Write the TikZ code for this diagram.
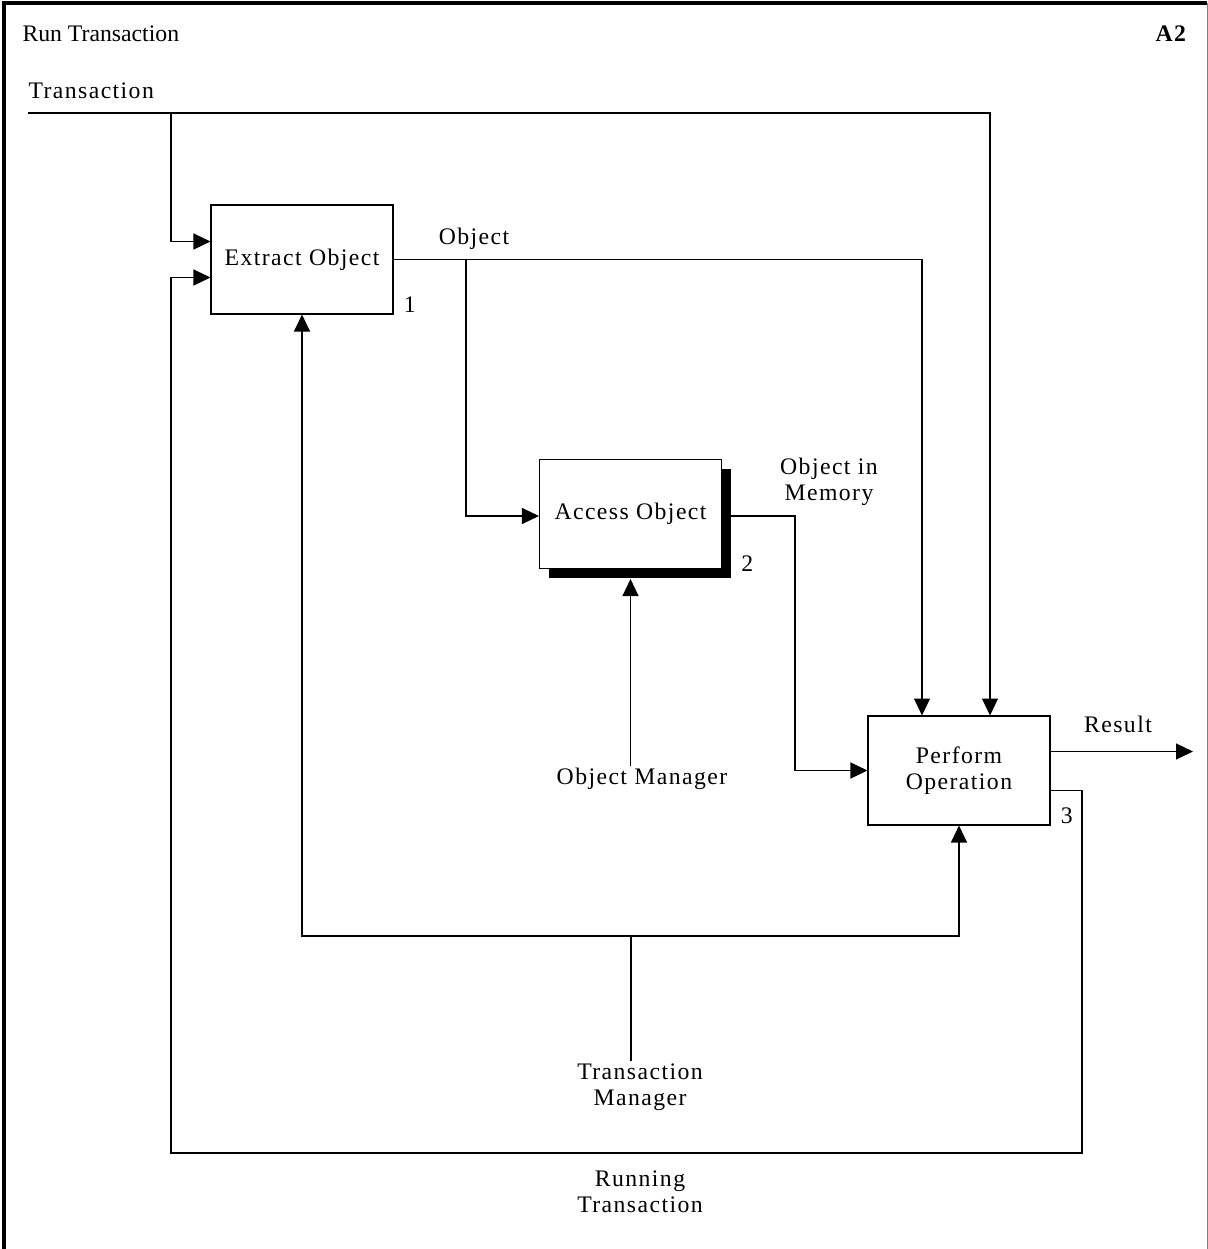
\documentclass[tikz,border=0pt]{standalone}
\usepackage{fontspec}
\setmainfont{Liberation Serif}
\usepackage{tikz}
\usetikzlibrary{arrows.meta,calc,positioning,shadows}

\begin{document}
\begin{tikzpicture}[x=0.02cm,y=-0.02cm,
  font=\fontsize{13.5}{15}\selectfont\addfontfeatures{LetterSpace=6},
  line width=0.6pt,
  arr/.style={-{Triangle[length=0.34cm,width=0.32cm]}},
  box/.style={draw,fill=white,minimum width=3.64cm,minimum height=2.18cm,inner sep=0pt,align=center},
  lbl/.style={align=center,inner sep=1pt}]
\useasboundingbox (0,0) rectangle (1208,1249);
% frame
\draw[line width=2pt] (4,1260) -- (4,3) -- (1207,3);
\draw[gray,line width=0.4pt] (1207,3) -- (1207,1260);
\node[anchor=west,inner sep=0pt,font=\fontsize{13.5}{15}\selectfont] (title) at (22,34) {Run Transaction};
\node[anchor=east,inner sep=0pt] (num) at (1188,34) {\textbf{A2}};
% boxes
\node[box] (ext) at (302,259.5) {Extract Object};
\node[box,drop shadow={shadow xshift=0.19cm,shadow yshift=-0.19cm,fill=black,opacity=1}] (acc) at (630.5,514) {Access Object};
\node[box] (perf) at (959,770.5) {Perform\\Operation};
\node[anchor=south west,inner sep=1pt] (n1) at ($(ext.south east)+(8,0)$) {1};
\node[anchor=south west,inner sep=1pt] (n2) at ($(acc.south east)+(17,5)$) {2};
\node[anchor=south west,inner sep=1pt] (n3) at ($(perf.south east)+(8,0)$) {3};
% labels
\node[anchor=west,inner sep=0pt] (tlab) at (28,91) {Transaction};
\node[lbl] (olab) at (474,239) {Object};
\node[lbl] (mlab) at (829,482) {Object in\\Memory};
\node[lbl] (rlab) at (1118,724) {Result};
\node[lbl] (om) at (642,779) {Object Manager};
\node[lbl] (tm) at (640,1087) {Transaction\\Manager};
\node[lbl] (rt) at (640,1192) {Running\\Transaction};
% junctions
\coordinate (tin) at (28,113);
\coordinate (tj) at (171,113);
\coordinate (oj) at (466,259.5);
\coordinate (mj) at (795,516);
\coordinate (tmj) at (631,936);
\coordinate (rb) at (1082,1153);
\coordinate (lb) at (171,1153);
\coordinate (rout) at (1193,751.5);
% Transaction
\draw[arr] (tin) -| ($(perf.north)+(31,0)$);
\draw[arr] (tj) |- ($(ext.west)+(0,-18)$);
% Object
\draw[arr] (ext.east) -| ($(perf.north)+(-37,0)$);
\draw[arr] (oj) |- ($(acc.west)+(0,2)$);
% Object in Memory
\draw[arr] ($(acc.east)+(9,2)$) -- (mj) |- (perf.west);
% Result
\draw[arr] ($(perf.east)+(0,-19)$) -- (rout);
% Running Transaction
\draw[arr] ($(perf.east)+(0,20)$) -| (rb) -- (lb) |- ($(ext.west)+(0,18)$);
% Object Manager
\draw[arr] (om.north -| acc.south) -- ($(acc.south)+(0,10)$);
% Transaction Manager
\draw (tm.north -| tmj) -- (tmj);
\draw[arr] (tmj) -| (ext.south);
\draw[arr] (tmj) -| (perf.south);
\end{tikzpicture}
\end{document}
